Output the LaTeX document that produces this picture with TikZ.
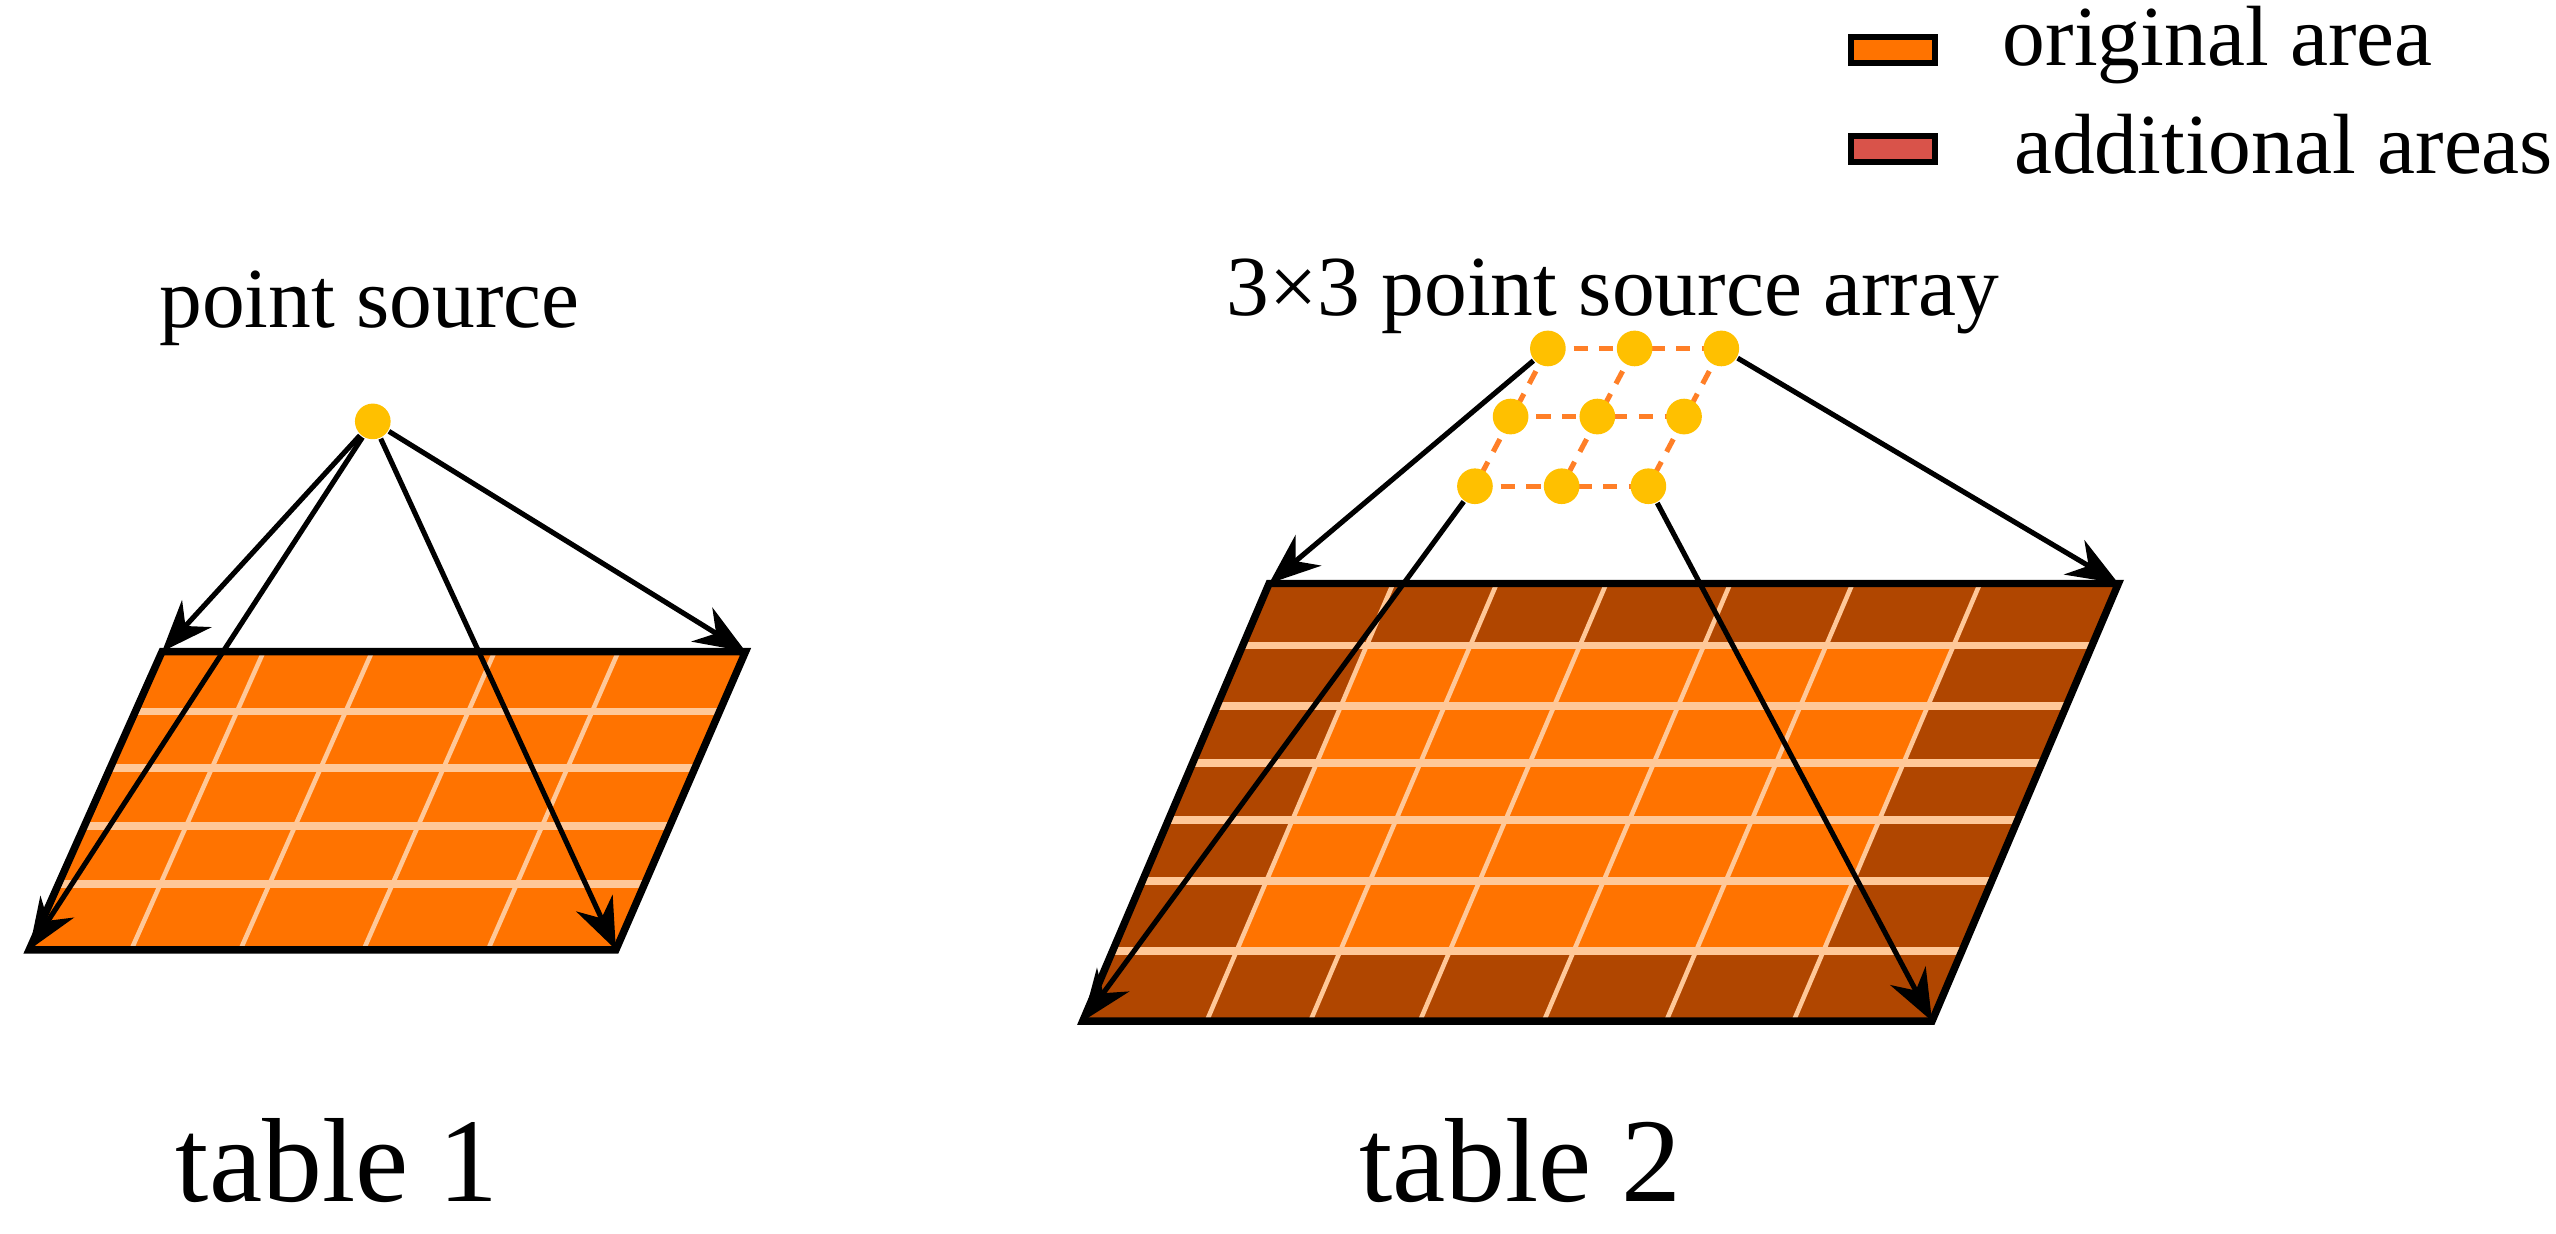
\documentclass[tikz,border=0pt]{standalone}
\usepackage{fontspec}
\setmainfont{Liberation Serif}
\usetikzlibrary{calc,arrows.meta}
\definecolor{orig}{HTML}{FF7300}
\definecolor{addl}{HTML}{B04600}
\definecolor{legadd}{HTML}{D9534A}
\definecolor{gridc}{HTML}{FFC898}
\definecolor{dotc}{HTML}{FFC000}
\definecolor{dashc}{HTML}{FF7F27}
\tikzset{
  ray/.style={line width=0.9pt,-{Stealth[length=9pt,width=7pt]}},
  dot/.style={circle,fill=dotc,inner sep=0pt,minimum size=0.22cm},
  gl/.style={gridc,line width=0.8pt},
  glh/.style={gridc,line width=1.3pt},
  border/.style={draw=black,line width=1.3pt},
  lbl/.style={font=\fontsize{15}{15}\selectfont,inner sep=0pt},
  big/.style={font=\fontsize{21}{21}\selectfont,inner sep=0pt},
  dl/.style={dashc,line width=0.9pt,dash pattern=on 2.5pt off 2pt}
}
\begin{document}
\begin{tikzpicture}[x=0.01cm,y=-0.01cm]
\useasboundingbox (0,0) rectangle (1577,761);
% ---------- table 1
\coordinate (A) at (100,402); \coordinate (B) at (460,402);
\coordinate (C) at (18,586);  \coordinate (D) at (380,586);
\fill[orig] (A)--(B)--(D)--(C)--cycle;
\foreach \u in {0.174,0.36,0.57,0.782}
  \draw[gl] ($(A)!\u!(B)$) -- ($(C)!\u!(D)$);
\foreach \v in {0.2,0.39,0.585,0.78}
  \draw[glh] ($(A)!\v!(C)$) -- ($(B)!\v!(D)$);
\draw[border] (A)--(B)--(D)--(C)--cycle;
\node[dot] (s) at (230,260) {};
\node[lbl] (pstext) at (228,190) {point source};
\draw[ray] (s) -- (A);
\draw[ray] (s) -- (B);
\draw[ray] (s) -- (C);
\draw[ray] (s) -- (D);
\node[big] (t1) at (208,716) {table 1};
% ---------- table 2
\coordinate (E) at (783,360); \coordinate (F) at (1307,360);
\coordinate (G) at (668,630); \coordinate (H) at (1192,630);
\fill[addl] (E)--(F)--(H)--(G)--cycle;
\def\ua{0.146}\def\ub{0.837}\def\va{0.142}\def\vb{0.84}
\fill[orig] ($($(E)!\va!(G)$)!\ua!($(F)!\va!(H)$)$) -- ($($(E)!\va!(G)$)!\ub!($(F)!\va!(H)$)$)
  -- ($($(E)!\vb!(G)$)!\ub!($(F)!\vb!(H)$)$) -- ($($(E)!\vb!(G)$)!\ua!($(F)!\vb!(H)$)$) -- cycle;
\foreach \u in {0.146,0.268,0.397,0.543,0.687,0.837}
  \draw[gl] ($(E)!\u!(F)$) -- ($(G)!\u!(H)$);
\foreach \v in {0.142,0.28,0.41,0.54,0.68,0.84}
  \draw[glh] ($(E)!\v!(G)$) -- ($(F)!\v!(H)$);
\draw[border] (E)--(F)--(H)--(G)--cycle;
\node[lbl] (arrtext) at (995,183) {3×3 point source array};
% array
\foreach \r/\y/\xo in {1/215/955,2/257/932,3/300/910}
  \foreach \c in {1,2,3}
    \coordinate (p\r\c) at ({\xo+(\c-1)*53.5},\y);
\foreach \r in {1,2,3}{
  \draw[dl] (p\r1) -- (p\r3);
  \draw[dl] (p1\r) -- (p3\r);}
\foreach \r in {1,2,3}
  \foreach \c in {1,2,3}
    \node[dot] (d\r\c) at (p\r\c) {};
\draw[ray] (d11) -- (E);
\draw[ray] (d13) -- (F);
\draw[ray] (d31) -- (G);
\draw[ray] (d33) -- (H);
\node[big] (t2) at (938,716) {table 2};
% ---------- legend
\node[draw=black,line width=1pt,fill=orig,minimum width=0.52cm,minimum height=0.16cm,inner sep=0pt] (l1) at (1168,31) {};
\node[draw=black,line width=1pt,fill=legadd,minimum width=0.52cm,minimum height=0.16cm,inner sep=0pt] (l2) at (1168,92) {};
\node[lbl,anchor=west] (l1t) at (1235,28) {original area};
\node[lbl,anchor=west] (l2t) at (1242,89) {additional areas};
\end{tikzpicture}
\end{document}
